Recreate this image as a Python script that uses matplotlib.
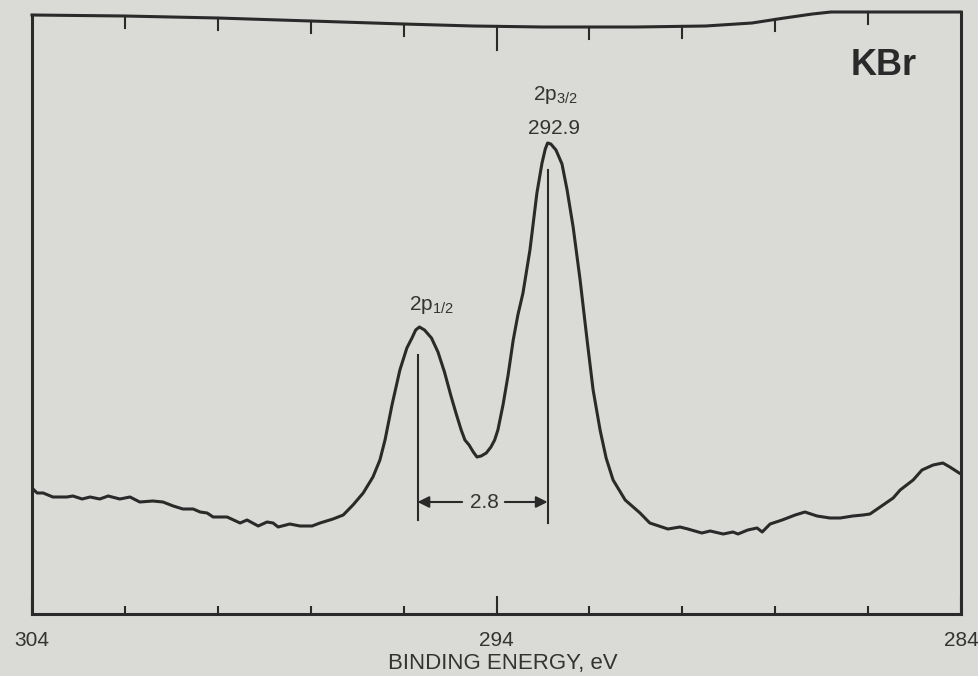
import matplotlib
matplotlib.use('Agg')
import matplotlib.pyplot as plt
import numpy as np

plt.rcParams['font.family'] = ['Liberation Sans', 'DejaVu Sans']
plt.rcParams['mathtext.fontset'] = 'custom'
plt.rcParams['mathtext.rm'] = 'Liberation Sans'
plt.rcParams['mathtext.it'] = 'Liberation Sans:italic'

# Br 2p region of KBr, binding energy (eV) vs counts (arbitrary units)
energy = [304.00, 303.89, 303.76, 303.55, 303.25, 303.12, 302.92, 302.75, 302.54, 302.36,
          302.11, 301.89, 301.68, 301.40, 301.18, 300.96, 300.75, 300.53, 300.38, 300.23,
          300.10, 299.80, 299.52, 299.37, 299.13, 298.94, 298.81, 298.70, 298.45, 298.23,
          297.97, 297.80, 297.52, 297.30, 297.09, 296.87, 296.66, 296.51, 296.40, 296.25,
          296.08, 295.93, 295.82, 295.74, 295.66, 295.55, 295.40, 295.26, 295.12, 294.98,
          294.86, 294.76, 294.68, 294.59, 294.50, 294.42, 294.33, 294.22, 294.12, 294.04,
          293.97, 293.86, 293.75, 293.64, 293.54, 293.43, 293.28, 293.13, 293.02, 292.95,
          292.90, 292.83, 292.72, 292.59, 292.48, 292.35, 292.20, 292.05, 291.92, 291.77,
          291.64, 291.49, 291.23, 290.91, 290.70, 290.31, 290.05, 289.88, 289.58, 289.40,
          289.12, 288.91, 288.80, 288.59, 288.39, 288.28, 288.11, 287.85, 287.57, 287.36,
          287.10, 286.82, 286.60, 286.33, 286.11, 285.96, 285.74, 285.46, 285.31, 285.03,
          284.84, 284.60, 284.39, 284.24, 284.04]
counts = [126, 121, 121, 117, 117, 118, 115, 117, 115, 118,
          115, 117, 112, 113, 112, 108, 105, 105, 102, 101,
          97, 97, 91, 94, 88, 92, 91, 87, 90, 88,
          88, 91, 95, 99, 109, 121, 137, 154, 174, 209,
          244, 266, 276, 284, 287, 284, 276, 262, 242, 218,
          199, 184, 174, 169, 162, 157, 158, 161, 167, 174,
          184, 209, 239, 274, 299, 321, 364, 421, 451, 465,
          471, 470, 464, 450, 424, 387, 334, 274, 224, 184,
          156, 134, 114, 101, 91, 85, 87, 85, 81, 83,
          80, 82, 80, 84, 86, 82, 90, 94, 99, 102,
          98, 96, 96, 98, 99, 100, 107, 116, 124, 134,
          144, 149, 151, 147, 141]

peak_32 = 292.9
split = 2.8
peak_12 = peak_32 + split

# upper border of the chart paper, drawn as a wavy pen line
top_energy = [304.0, 302.0, 300.0, 298.0, 296.0, 294.5, 293.0, 291.0, 289.5, 288.5, 287.8, 287.2, 286.8, 286.0, 284.0]
top_level = [599, 598, 596, 593, 590, 588, 587, 587, 588, 591, 596, 600, 602, 602, 602]

ink = '#2a2a2a'
text_ink = '#333333'
paper = '#dadad6'

fig = plt.figure(figsize=(9.79, 6.76), dpi=100, facecolor=paper)
ax = fig.add_axes([32 / 979, 62 / 676, 929 / 979, 606 / 676])
ax.set_facecolor(paper)

ax.plot(energy, counts, color=ink, lw=2.2, solid_joinstyle='round')

# frame: sides and wavy top
ax.plot([304, 304], [0, top_level[0]], color=ink, lw=2.2, clip_on=False)
ax.plot([284, 284], [0, top_level[-1]], color=ink, lw=2.2, clip_on=False)
ax.plot(top_energy, top_level, color=ink, lw=2.2, clip_on=False)

# hanging ticks along the top border
for e in np.arange(302, 285, -2):
    y0 = np.interp(e, top_energy[::-1], top_level[::-1])
    length = 24 if e == 294 else 12
    ax.plot([e, e], [y0, y0 - length], color=ink, lw=1.5)

for s in ['top', 'left', 'right']:
    ax.spines[s].set_visible(False)
ax.spines['bottom'].set_color(ink)
ax.spines['bottom'].set_linewidth(2.2)

ax.set_xlim(304, 284)
ax.set_ylim(0, 606)
ax.set_yticks([])
ax.set_xticks([304, 294, 284])
ax.set_xticklabels(['304', '294', '284'], fontsize=15, color=text_ink)
ax.set_xticks(np.arange(302, 285, -2), minor=True)
ax.tick_params(axis='x', which='major', direction='in', length=13, width=1.5, color=ink, pad=12)
ax.tick_params(axis='x', which='minor', direction='in', length=6, width=1.5, color=ink)

fig.text(503 / 979, 1 - 664 / 676, 'BINDING ENERGY, eV', ha='center', va='center',
         fontsize=16, color=text_ink)

# peak markers
ax.plot([peak_12, peak_12], [94, 259], color=ink, lw=1.5)
ax.plot([peak_32, peak_32], [91, 444], color=ink, lw=1.5)

ax.text(295.39, 309, r'2p$_{\mathregular{1/2}}$', ha='center', va='center', fontsize=15, color=text_ink)
ax.text(292.72, 519, r'2p$_{\mathregular{3/2}}$', ha='center', va='center', fontsize=15, color=text_ink)
ax.text(292.76, 486, f'{peak_32}', ha='center', va='center', fontsize=15, color=text_ink)

# spin-orbit splitting arrow
ax.text(294.25, 112, f'{split}', ha='center', va='center', fontsize=15, color=text_ink)
arrow = dict(arrowstyle='-|>', color=ink, lw=1.5, mutation_scale=17, shrinkA=0, shrinkB=0)
ax.annotate('', xy=(peak_12, 112), xytext=(294.74, 112), arrowprops=arrow)
ax.annotate('', xy=(peak_32, 112), xytext=(293.82, 112), arrowprops=arrow)

ax.text(284.95, 539, 'KBr', ha='right', va='baseline', fontsize=26, fontweight='bold', color=ink)

fig.savefig('out.png', dpi=100, facecolor=paper)
